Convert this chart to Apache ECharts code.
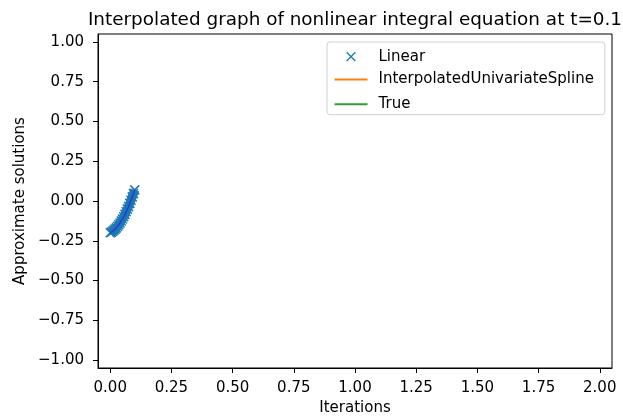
<!DOCTYPE html>
<html>
<head>
<meta charset="utf-8">
<script src="https://cdn.jsdelivr.net/npm/echarts@6/dist/echarts.min.js"></script>
<style>
html, body { margin: 0; padding: 0; background: #fff; }
#main { width: 623px; height: 416px; }
</style>
</head>
<body>
<div id="main"></div>
<script>
// sample points (x = iteration step, y = approximate solution)
var xs = [0, 0.005, 0.01, 0.015, 0.02, 0.025, 0.03, 0.035, 0.04, 0.045, 0.05,
          0.055, 0.06, 0.065, 0.07, 0.075, 0.08, 0.085, 0.09, 0.095, 0.1];
var linearVals = [-0.200, -0.196, -0.190, -0.184, -0.177, -0.169, -0.159, -0.149, -0.138, -0.126, -0.113,
                  -0.099, -0.084, -0.068, -0.051, -0.034, -0.015, 0.005, 0.026, 0.047, 0.070];
var splineVals = linearVals.slice();
var trueVals = linearVals.slice();
var xTicks = [0, 0.25, 0.5, 0.75, 1, 1.25, 1.5, 1.75, 2];
var yTicks = [-1, -0.75, -0.5, -0.25, 0, 0.25, 0.5, 0.75, 1];

var crossIcon = 'path://M0,0L10,10M10,0L0,10';
// legend icons: empty room round the shapes keeps them at matplotlib size
var crossLegend = 'path://M-3,-3M13,13M0,0L10,10M10,0L0,10';
var lineLegend = 'path://M0,0M33,14M0,7L33,7';

function pairs(vals) {
    return xs.map(function (x, i) { return [x, vals[i]]; });
}
function fmt(v) {
    return v.toFixed(2).replace('-', '\u2212');
}

var myChart = echarts.init(document.getElementById('main'));
var font = 'DejaVu Sans';
var option = {
    animation: false,
    textStyle: { fontFamily: font },
    title: {
        text: 'Interpolated graph of nonlinear integral equation at t=0.1',
        left: 350,
        textAlign: 'center',
        top: 6,
        textStyle: { fontFamily: font, fontSize: 18.4, fontWeight: 'normal', color: '#000' }
    },
    legend: {
        orient: 'vertical',
        left: 327,
        top: 42,
        padding: [7, 11, 1, 5],
        itemWidth: 33,
        itemHeight: 14,
        itemGap: 5.7,
        backgroundColor: '#fff',
        borderColor: '#d0d0d0',
        borderWidth: 1,
        borderRadius: 3,
        textStyle: { fontFamily: font, fontSize: 15, color: '#000', padding: [0, 0, 0, 6] },
        data: [
            { name: 'Linear', icon: crossLegend, itemStyle: { color: '#1f77b4', borderColor: '#1f77b4', borderWidth: 1.3 } },
            { name: 'InterpolatedUnivariateSpline', icon: lineLegend, itemStyle: { color: 'none', borderColor: '#ff7f0e', borderWidth: 2 } },
            { name: 'True', icon: lineLegend, itemStyle: { color: 'none', borderColor: '#2ca02c', borderWidth: 2 } }
        ]
    },
    grid: {
        left: 98, right: 11, top: 34, bottom: 48,
        outerBoundsMode: 'none',
        show: true, borderColor: '#000', borderWidth: 1
    },
    xAxis: {
        type: 'value',
        min: -0.05,
        max: 2.05,
        name: 'Iterations',
        nameLocation: 'middle',
        nameGap: 31,
        nameTextStyle: { fontFamily: font, fontSize: 15, color: '#000' },
        axisLine: { show: true, onZero: false, lineStyle: { color: '#000' } },
        axisTick: { show: true, customValues: xTicks, length: 5, lineStyle: { color: '#000' } },
        axisLabel: { customValues: xTicks, formatter: fmt, fontSize: 15, color: '#000', margin: 13 },
        splitLine: { show: false }
    },
    yAxis: {
        type: 'value',
        min: -1.05,
        max: 1.05,
        name: 'Approximate solutions',
        nameLocation: 'middle',
        nameGap: 66,
        nameTextStyle: { fontFamily: font, fontSize: 15, color: '#000' },
        axisLine: { show: true, onZero: false, lineStyle: { color: '#000' } },
        axisTick: { show: true, customValues: yTicks, length: 5, lineStyle: { color: '#000' } },
        axisLabel: { customValues: yTicks, formatter: fmt, fontSize: 15, color: '#000', margin: 14 },
        splitLine: { show: false }
    },
    series: [
        {
            name: 'InterpolatedUnivariateSpline',
            type: 'line',
            data: pairs(splineVals),
            symbol: 'none',
            color: '#ff7f0e',
            lineStyle: { width: 2 },
            z: 1
        },
        {
            name: 'True',
            type: 'line',
            data: pairs(trueVals),
            symbol: 'none',
            color: '#2ca02c',
            lineStyle: { width: 2 },
            z: 2
        },
        {
            name: 'Linear',
            type: 'line',
            data: pairs(linearVals),
            symbol: crossIcon,
            symbolSize: 9,
            showAllSymbol: true,
            color: '#1f77b4',
            itemStyle: { color: '#1f77b4', borderColor: '#1f77b4', borderWidth: 1.5 },
            lineStyle: { width: 9, color: '#1f77b4' },
            z: 3
        },
        {
            name: 'Linear trace',
            type: 'line',
            data: pairs(linearVals),
            symbol: 'none',
            lineStyle: { width: 1.5, color: '#1f3fd0' },
            z: 4
        }
    ]
};
myChart.setOption(option);
</script>
</body>
</html>
